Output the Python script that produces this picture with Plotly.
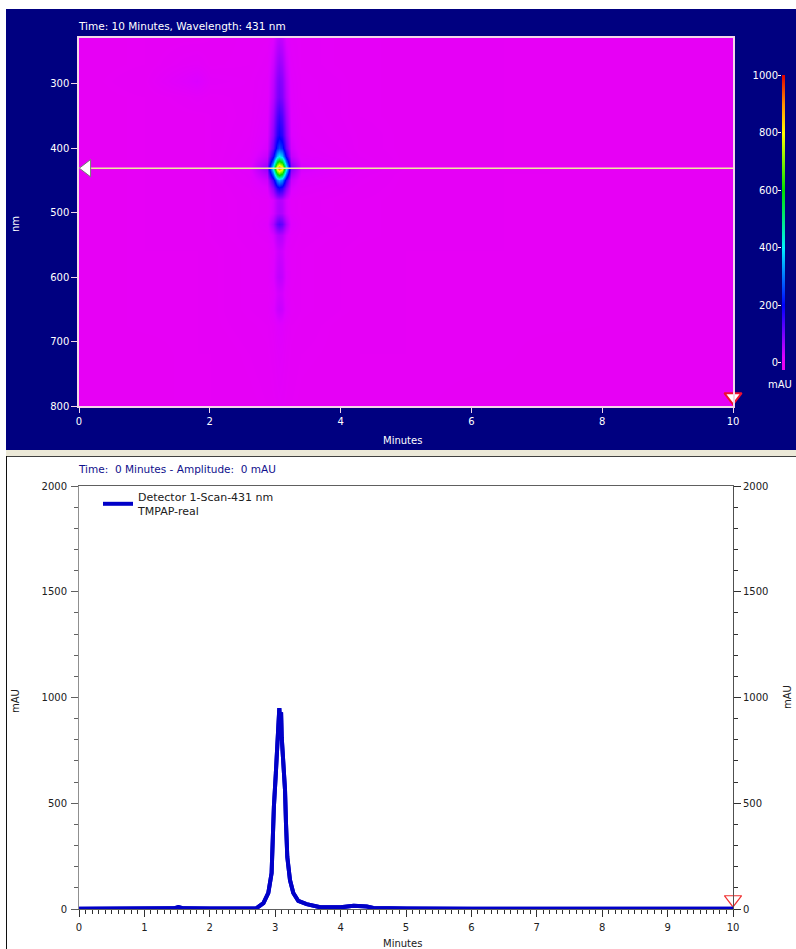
import plotly.graph_objects as go

W, H = 796, 949

# --- 2D scan (heatmap) ---
scan_times = [0, 1.0, 1.6, 1.8, 2.0, 2.6, 2.88, 2.96, 3.02, 3.06, 3.10, 3.16, 3.24, 3.4, 4.0, 4.3, 5, 6.5, 7.2, 10]
scan_wavelengths = [229, 270, 295, 320, 350, 380, 400, 412, 422, 431, 440, 450, 462, 480, 500, 518, 535, 560, 600, 625, 650, 675, 720, 800]
scan_mau = [
    [2, 3, 4, 4, 5, 7, 8, 20, 40, 45, 40, 20, 10, 8, 6, 5, 4, 3, 3, 2],
    [2, 3, 8, 9, 6, 7, 10, 34, 66, 75, 66, 34, 12, 8, 6, 5, 4, 3, 3, 2],
    [2, 4, 16, 22, 10, 8, 12, 44, 85, 95, 85, 44, 14, 9, 7, 5, 4, 3, 3, 2],
    [2, 3, 6, 8, 6, 8, 13, 50, 94, 105, 94, 50, 15, 9, 7, 5, 4, 3, 3, 2],
    [2, 3, 4, 4, 5, 8, 16, 68, 132, 150, 132, 68, 18, 10, 7, 5, 4, 3, 3, 2],
    [2, 3, 4, 4, 5, 9, 20, 84, 165, 185, 165, 84, 22, 11, 8, 6, 4, 3, 3, 2],
    [2, 3, 4, 4, 5, 10, 26, 115, 232, 260, 232, 115, 30, 12, 9, 6, 4, 3, 3, 2],
    [2, 3, 4, 4, 5, 11, 38, 180, 360, 400, 360, 180, 42, 14, 10, 7, 4, 3, 3, 2],
    [2, 3, 4, 4, 5, 12, 56, 290, 585, 650, 585, 300, 66, 20, 12, 8, 4, 3, 3, 2],
    [2, 3, 5, 5, 6, 14, 80, 425, 855, 950, 855, 440, 95, 28, 14, 10, 5, 4, 3, 2],
    [2, 3, 4, 4, 5, 12, 56, 290, 585, 650, 585, 300, 66, 20, 12, 8, 4, 3, 3, 2],
    [2, 3, 4, 4, 5, 11, 34, 155, 315, 350, 315, 160, 38, 14, 10, 7, 4, 3, 3, 2],
    [2, 3, 4, 4, 5, 9, 20, 85, 170, 190, 170, 88, 24, 11, 8, 6, 4, 3, 3, 2],
    [2, 3, 4, 4, 5, 8, 10, 26, 50, 55, 50, 26, 11, 8, 6, 5, 4, 3, 3, 2],
    [2, 3, 4, 4, 5, 8, 10, 28, 54, 60, 54, 28, 11, 8, 6, 5, 4, 3, 3, 2],
    [2, 3, 4, 4, 5, 8, 15, 58, 116, 130, 116, 58, 17, 9, 7, 5, 4, 3, 3, 2],
    [2, 3, 4, 4, 5, 8, 10, 26, 50, 55, 50, 26, 11, 8, 6, 5, 4, 3, 3, 2],
    [2, 3, 3, 3, 4, 7, 8, 16, 31, 35, 31, 16, 9, 7, 5, 4, 3, 3, 3, 2],
    [2, 3, 3, 3, 4, 7, 8, 20, 40, 45, 40, 20, 9, 7, 5, 4, 3, 3, 3, 2],
    [2, 3, 3, 3, 4, 7, 7, 14, 27, 30, 27, 14, 8, 7, 5, 4, 3, 3, 3, 2],
    [2, 3, 3, 3, 4, 7, 8, 18, 34, 38, 34, 18, 9, 7, 5, 4, 3, 3, 3, 2],
    [2, 3, 3, 3, 4, 6, 7, 10, 16, 18, 16, 10, 7, 6, 4, 4, 3, 3, 3, 2],
    [2, 2, 3, 3, 3, 5, 6, 8, 11, 12, 11, 8, 6, 5, 4, 3, 3, 3, 2, 2],
    [2, 2, 3, 3, 3, 4, 5, 6, 7, 8, 7, 6, 5, 4, 3, 3, 3, 2, 2, 2],
]
scale_values = [-25, 0, 100, 200, 300, 400, 500, 600, 700, 800, 900, 1000]
scale_ticks = [0, 200, 400, 600, 800, 1000]
wavelength_ticks = [300, 400, 500, 600, 700, 800]
scan_time_ticks = [0, 2, 4, 6, 8, 10]
cursor_wavelength = 431
cursor_time = 10

# --- Chromatogram at 431 nm ---
chrom_time = [0, 0.5, 1.0, 1.3, 1.45, 1.52, 1.6, 2.0, 2.5, 2.71, 2.82, 2.895, 2.945, 2.957, 2.98, 3.01, 3.03, 3.045,
              3.063, 3.075, 3.09, 3.10, 3.115, 3.15, 3.165, 3.185, 3.226, 3.277, 3.353, 3.48, 3.69, 4.0, 4.2, 4.4, 4.5,
              5, 6, 7, 8, 9, 10]
chrom_mau = [1, 1, 2, 2, 3, 9, 3, 2, 2, 3, 28, 76, 170, 326, 483, 643, 800, 920,
             950, 880, 930, 810, 752, 563, 406, 246, 137, 76, 38, 23, 8, 8, 15, 12, 5,
             2, 1, 1, 1, 1, 1]
chrom_ticks = [0, 500, 1000, 1500, 2000]
chrom_time_ticks = [0, 1, 2, 3, 4, 5, 6, 7, 8, 9, 10]

colorscale = [[0, "#E800F4"], [0.02, "#DE00FF"], [0.1, "#7A00FF"], [0.2, "#0000FF"], [0.3, "#0078FF"], [0.4, "#00F0FF"],
              [0.6, "#00E000"], [0.8, "#FFFF00"], [0.9, "#FF9000"], [1, "#E00000"]]

FONT = "DejaVu Sans"
NAVY = "#000080"
PALE = "#F2D6E8"


def px(v):
    return v / W


def py(v):
    return 1 - v / H


fig = go.Figure()

fig.add_trace(go.Heatmap(x=scan_times, y=scan_wavelengths, z=scan_mau, zmin=0, zmax=1000, zsmooth="best",
                         colorscale=colorscale, showscale=False, xaxis="x", yaxis="y"))
fig.add_trace(go.Scatter(x=[0, 10], y=[cursor_wavelength, cursor_wavelength], mode="lines",
                         line=dict(color="#EEE8A0", width=1.5), xaxis="x", yaxis="y", showlegend=False))
fig.add_trace(go.Scatter(x=[0.12], y=[cursor_wavelength], mode="markers", cliponaxis=False,
                         marker=dict(symbol="triangle-left", size=15, color="white", line=dict(color="#708070", width=1)),
                         xaxis="x", yaxis="y", showlegend=False))
fig.add_trace(go.Scatter(x=[cursor_time], y=[786], mode="markers", cliponaxis=False,
                         marker=dict(symbol="triangle-down", size=15, color="white", line=dict(color="#F01030", width=2)),
                         xaxis="x", yaxis="y", showlegend=False))

# colour scale strip
fig.add_trace(go.Heatmap(x=[0], y=scale_values, z=[[v] for v in scale_values], zmin=0, zmax=1000, zsmooth="best",
                         colorscale=colorscale, showscale=False, xaxis="x2", yaxis="y2"))

# chromatogram
fig.add_trace(go.Scatter(x=chrom_time, y=chrom_mau, mode="lines", cliponaxis=False,
                         name="Detector 1-Scan-431 nm<br>TMPAP-real",
                         line=dict(color="#0000C8", width=4), xaxis="x3", yaxis="y3"))
fig.add_trace(go.Scatter(x=chrom_time, y=chrom_mau, mode="lines", cliponaxis=False, showlegend=False,
                         line=dict(color="#0000C8", width=4), xaxis="x3", yaxis="y4"))
fig.add_trace(go.Scatter(x=[cursor_time], y=[45], mode="markers", cliponaxis=False, showlegend=False,
                         marker=dict(symbol="triangle-down-open", size=15, color="#F03030", line=dict(color="#F03030", width=1.2)),
                         xaxis="x3", yaxis="y3"))

white = dict(family=FONT, size=10, color="white")
dark = dict(family=FONT, size=10, color="#202020")
title_white = dict(family=FONT, size=10.5, color="white")

shapes = [
    dict(type="rect", xref="paper", yref="paper", x0=px(6), x1=1, y0=py(450), y1=py(9), fillcolor=NAVY, line_width=0, layer="below"),
    dict(type="rect", xref="paper", yref="paper", x0=px(6), x1=1, y0=py(456), y1=py(450), fillcolor="#ECE9D8", line_width=0, layer="below"),
    dict(type="rect", xref="paper", yref="paper", x0=px(6), x1=1, y0=py(457), y1=py(456), fillcolor="#404040", line_width=0, layer="below"),
    dict(type="rect", xref="paper", yref="paper", x0=px(6), x1=px(7), y0=0, y1=py(456), fillcolor="#101010", line_width=0, layer="below"),
]


def note(text, x, y, font, xanchor="center", **kw):
    return dict(text=text, x=px(x), y=py(y), xref="paper", yref="paper", showarrow=False, font=font,
                xanchor=xanchor, yanchor="middle", **kw)


annotations = [
    note("Time: 10 Minutes, Wavelength: 431 nm", 76, 26, title_white, xanchor="left"),
    note("Minutes", 402, 440, white),
    note("nm", 15, 224, white, textangle=-90),
    note("mAU", 780, 385, white),
    note("Time:  0 Minutes - Amplitude:  0 mAU", 76, 469, dict(family=FONT, size=10.5, color="#10108C"), xanchor="left"),
    note("Minutes", 402, 943, dark),
    note("mAU", 15, 701, dark, textangle=-90),
    note("mAU", 787, 697, dark, textangle=-90),
]

fig.update_layout(
    width=W, height=H, autosize=False, margin=dict(l=0, r=0, t=0, b=0, autoexpand=False),
    paper_bgcolor="white", plot_bgcolor="rgba(0,0,0,0)", shapes=shapes, annotations=annotations,
    font=dict(family=FONT, size=10),
    legend=dict(x=px(98), y=py(483), xanchor="left", yanchor="top", bgcolor="rgba(0,0,0,0)",
                font=dict(family=FONT, size=11, color="#202020"), itemwidth=30, tracegroupgap=0),
    xaxis=dict(domain=[px(79), px(733)], range=[0, 10], tickvals=scan_time_ticks, ticks="outside", ticklen=5,
               tickcolor=PALE, tickfont=white, showline=True, linecolor=PALE, mirror=True, linewidth=1.5,
               showgrid=False, zeroline=False, anchor="y"),
    yaxis=dict(domain=[py(406), py(38)], range=[800, 229], tickvals=wavelength_ticks, ticks="outside", ticklen=6,
               tickcolor=PALE, tickfont=white, showline=True, linecolor=PALE, mirror=True, linewidth=1.5,
               showgrid=False, zeroline=False, anchor="x"),
    xaxis2=dict(domain=[px(782), px(785)], visible=False, anchor="y2", range=[-0.5, 0.5]),
    yaxis2=dict(domain=[py(370), py(75)], range=[-25, 1000], tickvals=scale_ticks, ticks="outside", ticklen=3,
                tickcolor="white", tickfont=white, showgrid=False, zeroline=False, anchor="x2", ticklabelstandoff=-2),
    xaxis3=dict(domain=[px(79), px(733)], range=[0, 10], tickvals=chrom_time_ticks, ticks="outside", ticklen=7,
                tickcolor="#303030", tickfont=dark, showline=True, linecolor="#606060", mirror=True, showgrid=False,
                zeroline=False, anchor="y3", ticklabelstandoff=2,
                minor=dict(dtick=0.1, ticks="outside", ticklen=4, tickcolor="#303030")),
    yaxis3=dict(domain=[py(909), py(486)], range=[0, 2000], tickvals=chrom_ticks, ticks="outside", ticklen=7,
                tickcolor="#606060", tickfont=dark, showline=True, linecolor="#909090", showgrid=False,
                zeroline=False, anchor="x3", ticklabelstandoff=2,
                minor=dict(dtick=100, ticks="outside", ticklen=4, tickcolor="#606060")),
    yaxis4=dict(domain=[py(909), py(486)], range=[0, 2000], tickvals=chrom_ticks, ticks="outside", ticklen=7,
                tickcolor="#303030", tickfont=dark, showline=True, linecolor="#505050", showgrid=False,
                zeroline=False, side="right", overlaying="y3", anchor="x3",
                minor=dict(dtick=100, ticks="outside", ticklen=4, tickcolor="#303030")),
)

fig.write_html("out.html", config=dict(displayModeBar=False), post_script="document.body.style.margin='0';")
